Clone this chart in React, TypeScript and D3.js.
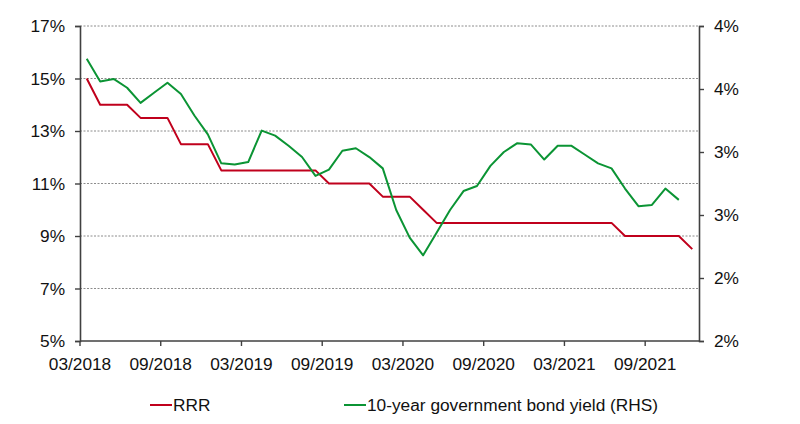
import { useEffect, useRef } from 'react';
import * as d3 from 'd3';

// monthly categories 03/2018 .. 12/2021
const months: string[] = [];
for (let y = 2018; y <= 2021; y++) {
  for (let m = y === 2018 ? 3 : 1; m <= 12; m++) {
    months.push(`${String(m).padStart(2, '0')}/${y}`);
  }
}

const xTickLabels = ['03/2018', '09/2018', '03/2019', '09/2019', '03/2020', '09/2020', '03/2021', '09/2021'];

const leftTicks = [5, 7, 9, 11, 13, 15, 17];
const rightTicks = [1.5, 2.0, 2.5, 3.0, 3.5, 4.0];
const rightTickLabels = ['2%', '2%', '3%', '3%', '4%', '4%'];

// reserve requirement ratio, %
const rrr = [
  15, 14, 14, 14, 13.5, 13.5, 13.5, 12.5, 12.5, 12.5,
  11.5, 11.5, 11.5, 11.5, 11.5, 11.5, 11.5, 11.5, 11, 11,
  11, 11, 10.5, 10.5, 10.5, 10, 9.5, 9.5, 9.5, 9.5,
  9.5, 9.5, 9.5, 9.5, 9.5, 9.5, 9.5, 9.5, 9.5, 9.5,
  9, 9, 9, 9, 9, 8.5,
];

// 10-year government bond yield, % (right axis)
const bondYield = [
  3.74, 3.56, 3.58, 3.51, 3.39, 3.47, 3.55, 3.46, 3.29, 3.14,
  2.91, 2.90, 2.92, 3.17, 3.13, 3.05, 2.96, 2.81, 2.86, 3.01,
  3.03, 2.96, 2.87, 2.54, 2.32, 2.18, 2.36, 2.54, 2.69, 2.73,
  2.89, 3.00, 3.07, 3.06, 2.94, 3.05, 3.05, 2.98, 2.91, 2.87,
  2.71, 2.57, 2.58, 2.71, 2.62,
];

const FONT = 'Liberation Sans, Arial, sans-serif';
const FONT_SIZE = '17.3px';

export default function App() {
  const ref = useRef<SVGSVGElement>(null);

  useEffect(() => {
    if (!ref.current) return;
    const svg = d3.select(ref.current);
    svg.selectAll('*').remove();

    const left = 80, right = 699, top = 26, bottom = 341;

    const x = d3.scaleBand<string>().domain(months).range([left, right]).padding(0);
    const yL = d3.scaleLinear().domain([5, 17]).range([bottom, top]);
    const yR = d3.scaleLinear().domain([1.5, 4.0]).range([bottom, top]);
    const cx = (i: number) => (x(months[i]) as number) + x.bandwidth() / 2;

    // gridlines
    svg.append('g')
      .selectAll('line')
      .data(leftTicks.filter(t => t !== 5))
      .enter().append('line')
      .attr('x1', left).attr('x2', right)
      .attr('y1', d => yL(d)).attr('y2', d => yL(d))
      .attr('stroke', '#8c8c8c')
      .attr('stroke-width', 1)
      .attr('stroke-dasharray', '2,1.5');

    // left axis
    const gL = svg.append('g').attr('transform', `translate(${left},0)`)
      .call(d3.axisLeft(yL).tickValues(leftTicks).tickSize(5).tickPadding(10).tickFormat(d => `${d}%`));
    // right axis
    const gR = svg.append('g').attr('transform', `translate(${right},0)`)
      .call(d3.axisRight(yR).tickValues(rightTicks).tickSize(5).tickPadding(10)
        .tickFormat((_d, i) => rightTickLabels[i]));
    // x axis
    const gX = svg.append('g').attr('transform', `translate(0,${bottom})`)
      .call(d3.axisBottom(x).tickValues(xTickLabels).tickSize(5).tickPadding(12).tickSizeOuter(0));
    gX.selectAll('.tick').attr('transform', d => `translate(${x(d as string)},0)`);

    [gL, gR, gX].forEach(g => {
      g.select('.domain').attr('stroke', '#404040').attr('stroke-width', 1.6);
      g.selectAll('.tick line').attr('stroke', '#404040').attr('stroke-width', 1.4);
      g.selectAll('.tick text')
        .attr('fill', '#111')
        .style('font-family', FONT)
        .style('font-size', FONT_SIZE);
    });
    gX.select('.domain').attr('d', `M${left},0H${right}`);

    const line = d3.line<number>().x((_d, i) => cx(i));

    svg.append('path')
      .datum(rrr)
      .attr('fill', 'none')
      .attr('stroke', '#c0001c')
      .attr('stroke-width', 2)
      .attr('stroke-linejoin', 'round')
      .attr('d', line.y(d => yL(d))(rrr));

    svg.append('path')
      .datum(bondYield)
      .attr('fill', 'none')
      .attr('stroke', '#0b9434')
      .attr('stroke-width', 2)
      .attr('stroke-linejoin', 'round')
      .attr('d', line.y(d => yR(d))(bondYield));

    // legend
    const legend = [
      { label: 'RRR', color: '#c0001c', x: 150 },
      { label: '10-year government bond yield (RHS)', color: '#0b9434', x: 344 },
    ];
    const lg = svg.append('g');
    legend.forEach(l => {
      lg.append('line')
        .attr('x1', l.x).attr('x2', l.x + 22)
        .attr('y1', 405).attr('y2', 405)
        .attr('stroke', l.color).attr('stroke-width', 2);
      lg.append('text')
        .attr('x', l.x + 23).attr('y', 411)
        .attr('fill', '#111')
        .style('font-family', FONT)
        .style('font-size', FONT_SIZE)
        .text(l.label);
    });
  }, []);

  return (
    <svg
      ref={ref}
      width={800}
      height={424}
      style={{ position: 'absolute', left: 0, top: 0, background: '#fff' }}
    />
  );
}
